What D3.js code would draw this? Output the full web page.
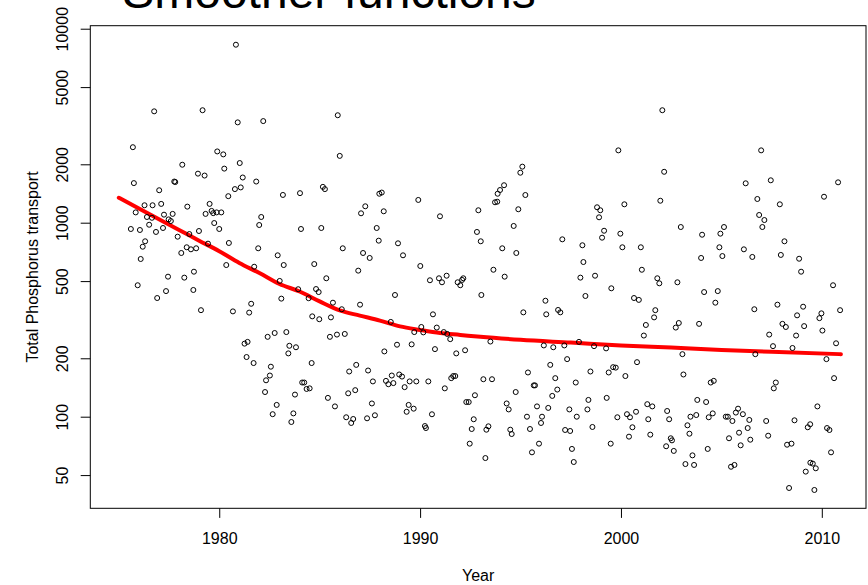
<!DOCTYPE html>
<html>
<head>
<meta charset="utf-8">
<script src="https://cdn.jsdelivr.net/npm/d3@7"></script>
<style>
  html, body { margin: 0; padding: 0; background: #ffffff; }
  svg { display: block; font-family: "Liberation Sans", Arial, Helvetica, sans-serif; }
</style>
</head>
<body>
<svg id="chart" width="868" height="585"></svg>
<script>
// Sample dates (decimal years) and total phosphorus transport for each sample
const sampleYear = [
  1980.83,1976.76,1979.17,1980.92,1982.19,1975.70,1979.90,1980.20,1978.16,1981.02,
  1980.25,1978.94,1979.27,1981.17,1975.75,1977.76,1977.81,1981.84,1981.07,1980.78,
  1977.01,1980.45,1983.17,1976.28,1976.68,1977.11,1979.52,1978.41,1975.84,1976.40,
  1977.25,1977.68,1979.32,1979.62,1979.70,1979.87,1980.10,1976.65,1982.09,1977.48,
  1977.59,1976.51,1979.75,1981.99,1975.60,1976.05,1976.85,1977.20,1978.99,1980.00,
  1977.93,1978.51,1976.31,1976.19,1980.48,1979.44,1978.38,1978.59,1978.85,1978.11,
  1981.94,1976.09,1982.91,1980.35,1981.74,1983.21,
  1985.90,1986.00,1984.02,1985.16,1985.26,1987.97,1988.09,1989.91,1987.27,1987.06,
  1988.19,1990.99,1984.07,1985.08,1987.84,1986.15,1987.94,1988.90,1989.15,1987.16,
  1987.49,1984.73,1990.01,
  2002.06,1999.87,2002.15,1995.09,1994.99,1994.18,1993.98,1993.86,1995.24,1993.73,
  1993.84,2001.96,2000.17,1992.90,1994.89,1998.81,1998.97,1998.91,1992.83,1993.02,
  1994.66,1999.16,1999.06,1999.97,1997.08,1994.09,1994.79,1998.08,2000.07,2000.99,
  1998.13,
  2006.98,2006.21,2007.46,2010.81,2010.11,2006.79,2007.91,2006.88,2007.14,2007.04,
  2002.98,2004.04,2005.13,2004.95,2008.14,2004.90,2006.12,2003.99,2005.05,2006.54,
  2007.96,2008.87,
  1978.74,1977.45,1978.26,1975.94,1976.91,1977.35,1978.71,1983.01,1983.09,1979.09,
  1980.68,1981.49,1981.59,1982.41,1982.76,1981.26,1981.41,1981.36,1981.71,1982.57,
  1982.52,1982.33,1982.28,1982.86,1982.66,
  1986.92,1985.33,1983.93,1984.82,1984.95,1984.45,1988.75,1990.49,1990.94,1991.09,
  1991.32,1991.87,1992.00,1992.09,1992.15,1985.66,1987.01,1986.10,1984.63,1984.98,
  1985.56,1990.64,1988.54,1990.06,1990.83,1983.34,1985.51,1985.86,1986.25,1989.71,
  1990.16,1991.18,1991.35,1991.50,1983.49,1983.82,1983.44,1988.85,1989.58,1988.22,
  1990.74,1991.80,1992.24,1984.60,1986.82,1986.47,1987.41,1987.65,1988.30,1988.59,
  1988.42,1988.67,1988.96,1989.10,1989.23,1989.48,1989.81,1990.41,1991.23,1991.55,
  1991.65,1991.75,1984.13,1984.23,1984.35,1984.50,1983.77,1985.41,1986.42,1986.77,
  1992.73,1985.76,1987.60,1989.43,1989.33,1989.68,1992.30,1992.42,1983.69,1983.59,
  1986.32,1986.67,1986.57,1987.36,1987.75,1990.59,1992.67,1990.24,1990.29,1992.57,
  1992.47,
  1993.65,1994.21,2001.04,1997.98,1998.71,2001.81,2001.91,1993.05,1996.24,1998.23,
  1999.52,2000.65,2000.89,1995.14,1996.28,1996.87,1996.98,2001.71,2001.65,2001.24,
  2001.14,1993.50,1996.16,1996.63,1997.18,1997.91,1998.66,1999.26,1997.32,1996.48,
  2000.80,1995.37,1998.48,1999.39,1999.61,1999.74,2000.22,1993.15,1993.58,1996.73,
  1997.75,1995.66,1995.72,1996.83,1996.58,1994.76,1994.31,1994.41,1995.82,1996.38,
  1997.43,1998.38,1998.33,1999.29,1995.32,1996.07,1996.02,1997.80,1999.82,2000.30,
  2000.45,2000.75,2001.31,2001.56,2002.30,2001.36,2002.40,1993.30,1993.40,1994.49,
  1994.56,1995.47,1997.22,1997.47,1998.58,2000.57,2000.40,2001.46,2002.48,2002.54,
  2002.25,2002.63,1995.92,1999.49,1997.56,1995.57,1993.25,1997.65,
  2008.97,2002.81,2010.56,2004.14,2004.82,2004.70,2006.64,2007.79,2009.07,2010.91,
  2009.98,2009.88,2008.77,2002.73,2002.88,2003.89,2008.04,2008.21,2009.12,2010.03,
  2007.38,2008.72,2007.57,2008.54,2010.71,2003.06,2006.69,2010.23,2003.11,2004.47,
  2004.62,2007.71,2007.61,2010.61,2003.80,2004.24,2003.46,2003.75,2004.37,2004.57,
  2005.22,2005.32,2005.55,2005.72,2005.83,2006.07,2006.39,2007.23,2008.64,2009.78,
  2003.31,2006.31,2009.30,2009.42,2010.26,2010.38,2003.41,2005.88,2007.33,2005.38,
  2006.44,2005.96,2008.27,2008.49,2004.32,2010.46,2003.56,2003.21,2003.64,2005.48,
  2005.65,2009.43,2009.55,2009.70,2009.20,2008.37,2009.63
];

const phosphorusTransport = [
  8270,3750,3800,3290,3340,2450,2330,2250,1990,2030,
  1900,1790,1750,1710,1600,1630,1620,1630,1520,1490,
  1470,1370,1390,1230,1230,1250,1250,1210,1130,1070,
  1100,1110,1110,1150,1120,1130,1130,1060,1070,1040,
  1020,976,996,973,928,917,896,939,906,928,
  847,874,802,752,786,780,747,729,738,698,
  738,650,679,605,593,605,
  3580,2210,1420,1530,1490,1410,1430,1310,1215,1118,
  1145,1079,928,939,939,738,808,783,679,698,
  658,612,598,
  3800,2360,1830,1945,1810,1560,1474,1410,1389,1274,
  1283,1298,1244,1159,1173,1201,1159,1066,896,802,
  962,909,837,878,821,738,698,765,747,747,
  627,
  2360,1596,1654,1615,1361,1325,1244,1096,1032,950,
  950,867,950,878,802,747,729,658,673,666,
  682,652,
  559,527,521,476,409,444,450,501,406,354,
  349,344,382,258,270,238,243,203,189,181,
  163,154,134,115,103,
  566,517,454,455,439,408,424,505,517,493,
  533,493,476,507,517,387,378,358,329,318,
  325,337,308,290,288,273,258,265,267,273,
  272,273,267,251,232,228,212,235,236,217,
  223,212,220,189,185,171,173,152,153,163,
  147,149,165,161,142,152,152,152,140,158,
  162,162,150,150,139,140,130,125,132,137,
  129,113,117,115,106,110,119,119,104,93.9,
  99.3,97.3,92.8,98.1,101.7,102.9,97,89.5,87.4,86.4,
  72.6,
  572,527,572,521,533,517,487,424,396,419,
  459,409,400,345,337,355,345,354,325,297,
  262,244,233,228,233,243,231,225,198,185,
  191,169,171,169,180,179,162,156,156,158,
  150,145,145,138,128,134,117,109,113,111,
  109,122,109,125,100,100,92.8,100,99.3,103,
  99.3,106,116,113,107,97,97,85.7,89.2,85.7,
  81.4,86.4,85.4,84.4,88.5,88.2,78.9,80.8,77.4,75.5,
  70.4,66.6,72.6,72.6,68.2,65.5,61.2,58.4,
  559,493,476,439,444,387,358,378,369,354,
  341,322,333,288,304,301,301,290,293,278,
  265,262,231,226,239,210,210,198,165,150,
  153,150,140,158,122,119,100,102,99.3,104,
  100,100,95.0,105,110,103,96.2,95.0,95.8,113,
  90.3,87.4,88.2,91.4,87.4,85.4,81.7,82.7,79.8,77.4,
  76.1,71.2,71.7,72.6,68.2,65.5,63.2,57.0,56.4,55.2,
  56.4,57.9,57.3,54.2,52.1,42.9,41.9
];

// Fitted smooth trend through the samples
const smoothYear  = [1975.0,1976.0,1977.0,1978.0,1979.0,1980.0,1981.0,1982.0,1983.0,1984.0,
                     1985.0,1986.0,1987.0,1988.0,1989.0,1990.0,1991.0,1992.0,1993.0,1995.0,
                     1997.5,2000.0,2002.5,2005.0,2007.5,2010.95];
const smoothValue = [1345,1182,1041,918,808,713,620,550,483,442,
                     393,353,332,313,292,280,270,264,258,249,
                     241,233,227,221,216,210];

const xTicks = [1980, 1990, 2000, 2010];
const yTicks = [50, 100, 200, 500, 1000, 2000, 5000, 10000];

const titleText = "Smoother functions";
const xLabel = "Year";
const yLabel = "Total Phosphorus transport";

// Plot region
const plotLeft = 90.3, plotRight = 866, plotTop = 25.7, plotBottom = 508.3;
const tickLen = 9.6;

const svg = d3.select("#chart");

const x = d3.scaleLinear().domain([1973.58, 2012.2]).range([plotLeft, plotRight]);
const y = d3.scaleLog().domain([33.71, 10363]).range([plotBottom, plotTop]);

// Title (large, partly above the drawing area)
svg.append("text")
  .attr("x", 329).attr("y", 7.5)
  .attr("text-anchor", "middle")
  .attr("font-size", 48)
  .attr("fill", "#000")
  .text(titleText);

// Smooth trend line
const line = d3.line()
  .x((d, i) => x(smoothYear[i]))
  .y((d, i) => y(smoothValue[i]))
  .curve(d3.curveMonotoneX);

svg.append("path")
  .datum(smoothYear)
  .attr("d", line)
  .attr("fill", "none")
  .attr("stroke", "#ff0000")
  .attr("stroke-width", 4)
  .attr("stroke-linecap", "round")
  .attr("stroke-linejoin", "round");

// Sample points as open circles
svg.append("g")
  .selectAll("circle")
  .data(sampleYear)
  .join("circle")
  .attr("cx", (d) => x(d))
  .attr("cy", (d, i) => y(phosphorusTransport[i]))
  .attr("r", 2.5)
  .attr("fill", "none")
  .attr("stroke", "#000")
  .attr("stroke-width", 1);

// Bottom axis
const gx = svg.append("g")
  .attr("transform", `translate(0,${plotBottom})`)
  .call(d3.axisBottom(x).tickValues(xTicks).tickFormat(d3.format("d")).tickSize(tickLen));
gx.select(".domain").remove();
gx.selectAll(".tick line").attr("stroke", "#000");
gx.selectAll(".tick text")
  .attr("y", null).attr("dy", null)
  .attr("transform", "translate(0,35.2)")
  .attr("font-size", 16)
  .attr("font-family", "Liberation Sans, Arial, sans-serif")
  .attr("fill", "#000");

// Left axis with labels running along the axis
const gy = svg.append("g")
  .attr("transform", `translate(${plotLeft},0)`)
  .call(d3.axisLeft(y).tickValues(yTicks).tickFormat(d3.format("d")).tickSize(tickLen));
gy.select(".domain").remove();
gy.selectAll(".tick line").attr("stroke", "#000");
gy.selectAll(".tick text")
  .attr("x", null).attr("dy", null)
  .attr("text-anchor", "middle")
  .attr("transform", "translate(-22.3,0) rotate(-90)")
  .attr("font-size", 16)
  .attr("font-family", "Liberation Sans, Arial, sans-serif")
  .attr("fill", "#000");

// Plot frame
svg.append("rect")
  .attr("x", plotLeft).attr("y", plotTop)
  .attr("width", plotRight - plotLeft).attr("height", plotBottom - plotTop)
  .attr("fill", "none").attr("stroke", "#000").attr("stroke-width", 1);

// Axis titles
svg.append("text")
  .attr("x", (plotLeft + plotRight) / 2).attr("y", 581)
  .attr("text-anchor", "middle").attr("font-size", 16).attr("fill", "#000")
  .text(xLabel);

svg.append("text")
  .attr("transform", `translate(38,${(plotTop + plotBottom) / 2}) rotate(-90)`)
  .attr("text-anchor", "middle").attr("font-size", 16).attr("fill", "#000")
  .text(yLabel);
</script>
</body>
</html>
